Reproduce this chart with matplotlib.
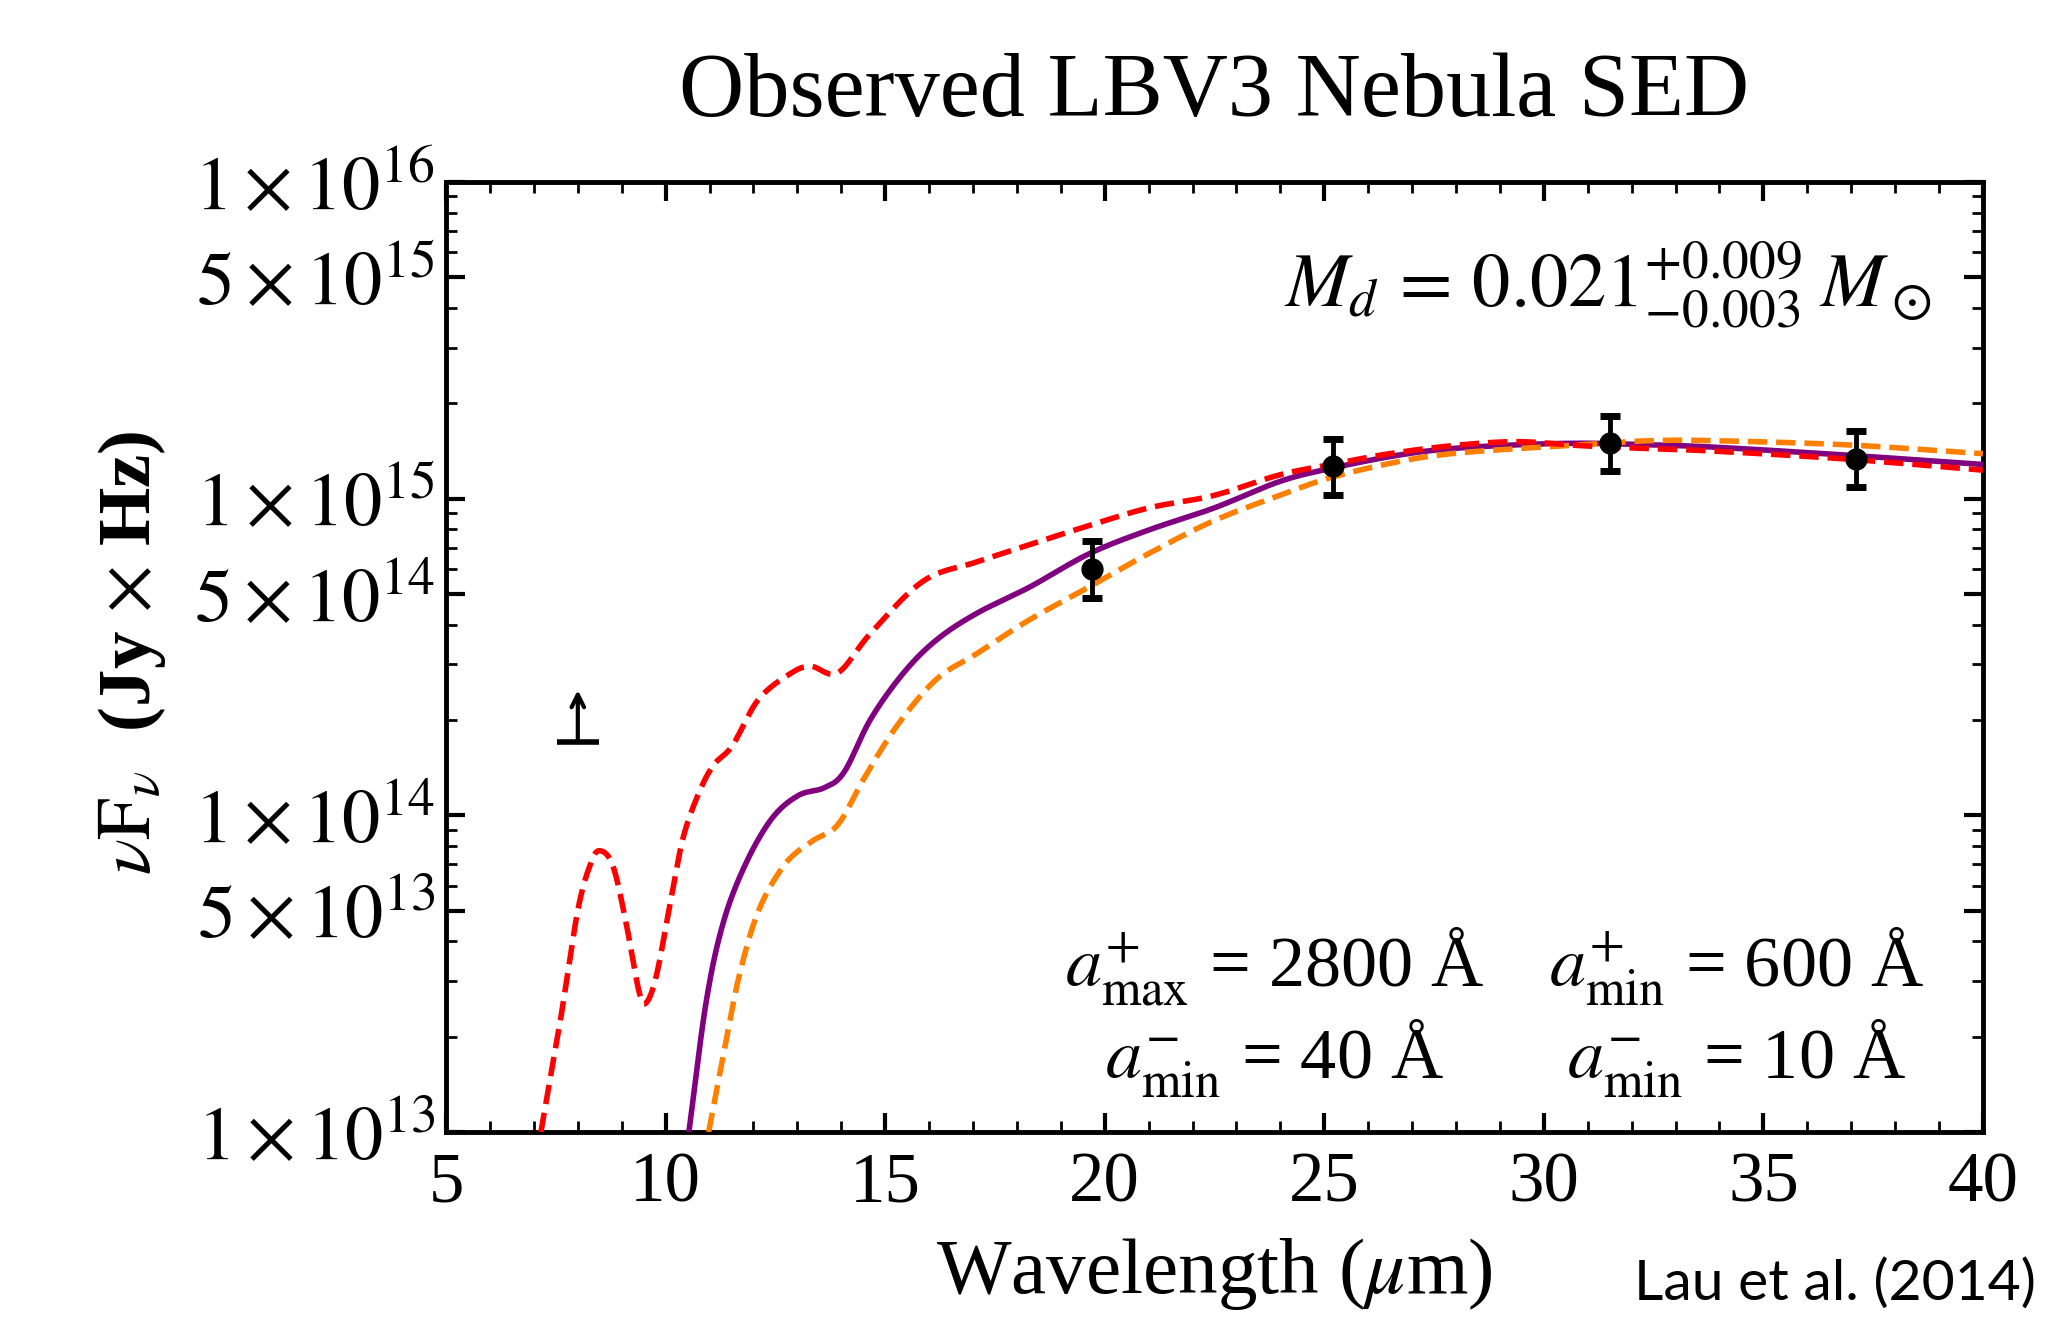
import numpy as np
import matplotlib
matplotlib.use("Agg")
import matplotlib.pyplot as plt
from matplotlib.ticker import FixedLocator, LogLocator, NullFormatter, MultipleLocator

# ---------------- data ----------------
obs_wl = [19.7, 25.2, 31.5, 37.1]
obs_flux = [6.0e14, 1.27e15, 1.50e15, 1.33e15]
obs_err_lo = [1.13e14, 0.24e15, 0.28e15, 0.24e15]
obs_err_hi = [1.36e14, 0.27e15, 0.33e15, 0.30e15]

limit_wl = 8.0
limit_flux = 1.7e14

# log10(nuFnu) of model curves
red_wl = [7.16, 7.6, 8.0, 8.3, 8.51, 8.8, 9.1, 9.4, 9.57, 9.8, 10.1, 10.4, 10.77, 11.1, 11.52, 12.12, 12.87,
          13.32, 13.92, 14.67, 15.87, 17.08, 18.28, 19.48, 20.98, 22.48, 23.98, 25.16, 26.39, 27.89,
          29.39, 30.89, 32.4, 33.9, 36.9, 40.0]
red_log = [13.0, 13.35, 13.7, 13.85, 13.888, 13.84, 13.66, 13.44, 13.41, 13.5, 13.72, 13.93, 14.075, 14.16,
           14.22, 14.367, 14.45, 14.47, 14.45, 14.575, 14.74, 14.80, 14.854, 14.908, 14.97, 15.01, 15.075,
           15.108, 15.14, 15.167, 15.18, 15.167, 15.158, 15.15, 15.125, 15.09]

purple_wl = [10.53, 10.92, 11.31, 11.82, 12.42, 13.02, 13.62, 14.07, 14.67, 15.42, 16.17, 17.08, 18.28,
             19.63, 20.98, 22.48, 23.98, 25.16, 26.69, 27.89, 29.39, 30.89, 32.4, 33.9, 36.9, 40.0]
purple_log = [13.0, 13.408, 13.66, 13.846, 13.99, 14.0625, 14.0875, 14.1375, 14.304, 14.45, 14.554,
              14.6375, 14.72, 14.825, 14.9, 14.97, 15.054, 15.096, 15.1375, 15.158, 15.17, 15.175, 15.17,
              15.1625, 15.1375, 15.108]

orange_wl = [10.98, 11.31, 11.67, 12.12, 12.72, 13.32, 13.92, 14.52, 15.27, 16.17, 17.08, 18.28, 19.63,
             20.98, 22.48, 23.98, 25.16, 26.69, 27.89, 29.39, 30.89, 32.4, 33.9, 36.9, 40.0]
orange_log = [13.0, 13.24, 13.49, 13.7, 13.846, 13.917, 13.97, 14.117, 14.283, 14.43, 14.51, 14.617,
              14.72, 14.825, 14.93, 15.01, 15.067, 15.117, 15.142, 15.158, 15.17, 15.183, 15.183, 15.17,
              15.142]

ytick_vals = [1e13, 5e13, 1e14, 5e14, 1e15, 5e15, 1e16]
ytick_labels = [r'$1\times10^{13}$', r'$5\times10^{13}$', r'$1\times10^{14}$', r'$5\times10^{14}$',
                r'$1\times10^{15}$', r'$5\times10^{15}$', r'$1\times10^{16}$']
xtick_vals = [5, 10, 15, 20, 25, 30, 35, 40]

# ---------------- style ----------------
plt.rcParams['font.family'] = ['Liberation Serif', 'DejaVu Serif']
plt.rcParams['mathtext.fontset'] = 'stix'

fig = plt.figure(figsize=(20.69, 13.17), dpi=100)
ax = fig.add_axes([0.2156, 0.1405, 0.9584 - 0.2156, 0.8618 - 0.1405])

def smooth(xs, ys):
    xs = np.asarray(xs, float); ys = np.asarray(ys, float)
    tf = np.linspace(0, len(xs) - 1, 800)
    def cr(v):
        v = np.asarray(v, float)
        p = np.concatenate([[2 * v[0] - v[1]], v, [2 * v[-1] - v[-2]]])
        out = np.empty_like(tf)
        for k, tt in enumerate(tf):
            i = min(int(np.floor(tt)), len(v) - 2)
            u = tt - i
            p0, p1, p2, p3 = p[i], p[i + 1], p[i + 2], p[i + 3]
            out[k] = 0.5 * ((2 * p1) + (-p0 + p2) * u + (2 * p0 - 5 * p1 + 4 * p2 - p3) * u ** 2
                            + (-p0 + 3 * p1 - 3 * p2 + p3) * u ** 3)
        return out
    return cr(xs), 10 ** cr(ys)

rx, ry = smooth(red_wl, red_log)
px, py = smooth(purple_wl, purple_log)
ox, oy = smooth(orange_wl, orange_log)

ax.plot(px, py, color='#800080', lw=4.0, solid_capstyle='butt', zorder=3)
ax.plot(ox, oy, color='#FF8000', lw=4.0, dashes=(3.5, 1.6), zorder=3)
ax.plot(rx, ry, color='#FF0000', lw=4.0, dashes=(3.5, 1.6), zorder=4)

ax.errorbar(obs_wl, obs_flux, yerr=[obs_err_lo, obs_err_hi], fmt='o', color='black', ms=15,
            elinewidth=3.5, capsize=7, capthick=5, zorder=5)

# lower limit
ax.annotate('', xy=(limit_wl, limit_flux * 10 ** 0.165), xytext=(limit_wl, limit_flux),
            arrowprops=dict(arrowstyle='->,head_length=0.9,head_width=0.45', lw=3, color='black',
                            shrinkA=0, shrinkB=0), zorder=5)
ax.plot([limit_wl], [limit_flux], marker='_', ms=30, mew=4, color='black', zorder=5)

ax.set_yscale('log')
ax.set_xlim(5, 40)
ax.set_ylim(1e13, 1e16)

ax.yaxis.set_major_locator(FixedLocator(ytick_vals))
ax.set_yticklabels(ytick_labels)
ax.yaxis.set_minor_locator(LogLocator(base=10, subs=[2, 3, 4, 6, 7, 8, 9]))
ax.yaxis.set_minor_formatter(NullFormatter())
ax.xaxis.set_major_locator(FixedLocator(xtick_vals))
ax.set_xticklabels([str(v) for v in xtick_vals])
ax.xaxis.set_minor_locator(MultipleLocator(1))

ax.tick_params(which='both', direction='in', top=True, right=True)
ax.tick_params(axis='y', labelsize=55)
ax.tick_params(axis='x', labelsize=51)
ax.tick_params(which='major', length=14, width=3)
ax.tick_params(which='minor', length=8, width=2)
ax.tick_params(axis='y', which='major', pad=8)
ax.tick_params(axis='x', which='major', pad=14)
for s in ax.spines.values():
    s.set_linewidth(3.5)

fig.text(0.587, 0.912, 'Observed LBV3 Nebula SED', ha='center', va='baseline', fontsize=65)
fig.text(0.587, 0.018, r'Wavelength ($\mu$m)', ha='center', va='baseline', fontsize=57)
fig.text(0.064, 0.504, r'$\nu\mathrm{F}_{\nu}$  (Jy $\times$ Hz)', rotation=90, ha='center', va='center',
         fontsize=54, fontweight='bold')
fig.text(0.984, 0.013, 'Lau et al. (2014)', ha='right', va='baseline', fontsize=41,
         family=['Lato', 'DejaVu Sans'])

ax.text(0.967, 0.869, r'$M_d\,=\,0.021^{+0.009}_{-0.003}\;M_\odot$', transform=ax.transAxes,
        ha='right', va='baseline', fontsize=55)
ax.text(0.539, 0.153, r'$a^{+}_{\mathrm{max}}$ = 2800 Å', transform=ax.transAxes, ha='center',
        va='baseline', fontsize=52)
ax.text(0.8395, 0.153, r'$a^{+}_{\mathrm{min}}$ = 600 Å', transform=ax.transAxes, ha='center',
        va='baseline', fontsize=52)
ax.text(0.539, 0.0556, r'$a^{-}_{\mathrm{min}}$ = 40 Å', transform=ax.transAxes, ha='center',
        va='baseline', fontsize=52)
ax.text(0.8395, 0.0556, r'$a^{-}_{\mathrm{min}}$ = 10 Å', transform=ax.transAxes, ha='center',
        va='baseline', fontsize=52)

fig.savefig('out.png', dpi=100)
